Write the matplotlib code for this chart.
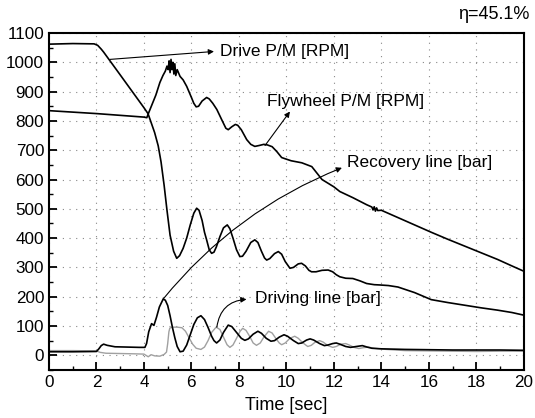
import numpy as np
import matplotlib
matplotlib.use("Agg")
import matplotlib.pyplot as plt
from matplotlib.ticker import MultipleLocator

plt.rcParams['font.family'] = ['Liberation Sans', 'DejaVu Sans']

# Drive P/M [RPM]
drive_t = [0, 1.0, 1.9, 2.05, 2.2, 2.3, 3.0, 3.5, 4.0, 4.17, 4.3, 4.45, 4.6, 4.72, 4.85, 4.97,
           5.1, 5.25, 5.38, 5.5, 5.65, 5.8, 5.95, 6.1, 6.22, 6.32, 6.45, 6.55, 6.64, 6.75, 6.85,
           6.95, 7.05, 7.2, 7.35, 7.51, 7.62, 7.75, 7.9, 8.04, 8.15, 8.3, 8.5, 8.67, 8.8, 8.95,
           9.08, 9.17, 9.3, 9.5, 9.66, 9.8, 9.95, 10.15, 10.3, 10.5, 10.64, 10.8, 10.95, 11.06,
           11.25, 11.5, 11.76, 11.95, 12.1, 12.25, 12.5, 12.8, 13.1, 13.38, 13.7, 13.94, 14.3,
           14.7, 15.4, 16.1, 16.8, 17.5, 18.2, 18.9, 19.5, 20]
drive_v = [1062, 1064, 1063, 1058, 1045, 1035, 957, 901, 845, 825, 795, 760, 715, 660, 580, 495,
           410, 355, 331, 340, 365, 400, 445, 485, 502, 495, 460, 420, 394, 360, 348,
           352, 370, 405, 435, 445, 432, 400, 360, 337, 338, 355, 385, 394, 385, 355,
           332, 325, 330, 347, 354, 345, 320, 297, 300, 312, 314, 305, 290, 285,
           285, 290, 291, 285, 275, 268, 263, 262, 254, 245, 241, 240, 238,
           233, 214, 190, 180, 171, 162, 154, 146, 137]

# Flywheel P/M [RPM]
fly_t = [0, 1, 2, 3, 4.0, 4.12, 4.2, 4.35, 4.5, 4.67, 4.8, 4.9, 4.97, 5.02, 5.06, 5.1, 5.14,
         5.18, 5.22, 5.26, 5.3, 5.34, 5.4, 5.52, 5.65, 5.8, 6.0, 6.1, 6.2, 6.3, 6.45, 6.64,
         6.75, 6.9, 7.07, 7.3, 7.45, 7.55, 7.7, 7.85, 7.95, 8.1, 8.33, 8.5, 8.67, 8.85, 9.05,
         9.2, 9.4, 9.6, 9.8, 9.94, 10.2, 10.65, 11.07, 11.5, 12.0, 12.25, 12.8, 13.38, 13.6,
         13.65, 13.7, 13.75, 13.8, 13.85, 14.0, 14.7, 15.4, 16.1, 16.8, 17.5, 18.2, 18.9,
         19.5, 20]
fly_v = [835, 830, 825, 819, 813, 811, 828, 858, 888, 931, 955, 970, 987, 975, 1005, 965, 1010,
         975, 1000, 960, 995, 955, 975, 952, 940, 918, 880, 860, 848, 850, 868, 880,
         875, 860, 839, 800, 775, 770, 780, 788, 785, 770, 736, 720, 713, 716, 720,
         718, 712, 695, 675, 671, 664, 657, 644, 600, 575, 559, 538, 514, 506,
         496, 507, 492, 503, 494, 495, 470, 445, 420, 396, 373, 350, 327,
         305, 287]

# Recovery line [bar]
rec_t = [0, 1, 2.0, 2.1, 2.2, 2.3, 2.45, 2.78, 3.3, 3.8, 4.04, 4.11, 4.2, 4.32, 4.42, 4.53,
         4.65, 4.81, 4.9, 5.0, 5.1, 5.2, 5.3, 5.4, 5.52, 5.65, 5.8, 5.95, 6.1, 6.25, 6.4,
         6.55, 6.7, 6.85, 6.95, 7.06, 7.2, 7.35, 7.55, 7.7, 7.9, 8.1, 8.25, 8.4, 8.6, 8.8,
         8.95, 9.15, 9.35, 9.5, 9.7, 9.9, 10.05, 10.3, 10.5, 10.65, 10.85, 11.0, 11.15, 11.4,
         11.6, 11.75, 11.95, 12.1, 12.25, 12.5, 12.7, 12.95, 13.2, 13.4, 13.6, 14.0, 15, 16,
         17, 18, 19, 20]
rec_v = [12, 12, 13, 22, 33, 38, 34, 29, 28, 27, 27, 40, 80, 108, 102, 130,
         165, 192, 188, 170, 135, 95, 60, 30, 12, 14, 35, 70, 105, 128, 135,
         122, 95, 65, 50, 42, 52, 78, 103, 98, 78, 58, 51, 56, 72, 82,
         75, 58, 48, 50, 62, 70, 65, 50, 40, 42, 52, 56, 52, 40,
         33, 35, 40, 42, 38, 30, 27, 30, 33, 28, 24, 22, 20, 19,
         18, 18, 18, 17]

# Driving line [bar]
drv_t = [0, 1, 2.0, 2.15, 2.4, 3.0, 3.6, 4.0, 4.18, 4.3, 4.45, 4.67, 4.85, 4.95, 5.0, 5.05,
         5.09, 5.2, 5.4, 5.6, 5.75, 5.9, 6.05, 6.2, 6.4, 6.55, 6.7, 6.85, 7.04, 7.2, 7.35,
         7.5, 7.62, 7.75, 7.9, 8.05, 8.16, 8.3, 8.45, 8.6, 8.74, 8.9, 9.05, 9.25, 9.4, 9.55,
         9.7, 9.8, 9.95, 10.15, 10.35, 10.5, 10.7, 10.9, 11.05, 11.2, 11.4, 11.55, 11.75,
         11.95, 12.1, 12.3, 12.5, 12.65, 12.85, 13.05, 13.25, 13.45, 13.7, 14.2, 15, 16, 17,
         18, 19, 20]
drv_v = [16, 16, 15, 10, 7, 6, 5, 4, -5, 2, -2, -3, 3, 11, 40, 80,
         93, 96, 96, 94, 82, 60, 38, 24, 20, 28, 50, 78, 96, 88, 62,
         36, 27, 35, 58, 82, 92, 85, 65, 42, 34, 42, 62, 82, 76, 58,
         42, 36, 42, 58, 65, 58, 42, 30, 34, 44, 50, 45, 33,
         27, 30, 38, 40, 35, 27, 23, 26, 28, 24, 20, 16, 15, 14,
         13, 14, 14]

fig = plt.figure(figsize=(5.35, 4.18), dpi=100)
ax = fig.add_axes([0.0916, 0.115, 0.8874, 0.806])

ax.plot(drv_t, drv_v, color='#a0a0a0', lw=1.0)
ax.plot(rec_t, rec_v, color='k', lw=1.2)
ax.plot(fly_t, fly_v, color='k', lw=1.2)
ax.plot(drive_t, drive_v, color='k', lw=1.2)

ax.set_xlim(0, 20)
ax.set_ylim(-50, 1100)
ax.xaxis.set_major_locator(MultipleLocator(2))
ax.xaxis.set_minor_locator(MultipleLocator(1))
ax.yaxis.set_major_locator(MultipleLocator(100))
ax.yaxis.set_minor_locator(MultipleLocator(50))
ax.tick_params(which='both', direction='in', top=False, right=False, labelsize=12.3)
ax.tick_params(which='major', length=6, width=1.3)
ax.tick_params(which='minor', length=3, width=1.0)
for s in ax.spines.values():
    s.set_linewidth(1.5)
ax.grid(True, which='major', color='#888888', lw=0.8, linestyle=(0, (1, 5)))
ax.set_xlabel('Time [sec]', fontsize=13, labelpad=5)

ap = dict(arrowstyle='-|>', color='k', lw=0.8, mutation_scale=8, shrinkA=0, shrinkB=0)
ax.annotate('', xy=(6.95, 1037), xytext=(2.57, 1010), arrowprops=ap)
ax.text(7.2, 1037, 'Drive P/M [RPM]', fontsize=12.5, va='center')
ax.annotate('', xy=(10.15, 832), xytext=(9.1, 716), arrowprops=ap)
ax.text(9.2, 866, 'Flywheel P/M [RPM]', fontsize=12.5, va='center')
ax.annotate('', xy=(12.34, 640), xytext=(4.81, 192),
            arrowprops=dict(ap, connectionstyle='arc3,rad=-0.13'))
ax.text(12.55, 657, 'Recovery line [bar]', fontsize=12.5, va='center')
ax.annotate('', xy=(8.32, 191), xytext=(7.07, 96),
            arrowprops=dict(ap, connectionstyle='arc3,rad=-0.4'))
ax.text(8.67, 195, 'Driving line [bar]', fontsize=12.5, va='center')

fig.text(0.99, 0.966, 'η=45.1%', fontsize=13, ha='right', va='center')

fig.savefig('out.png', dpi=100)
